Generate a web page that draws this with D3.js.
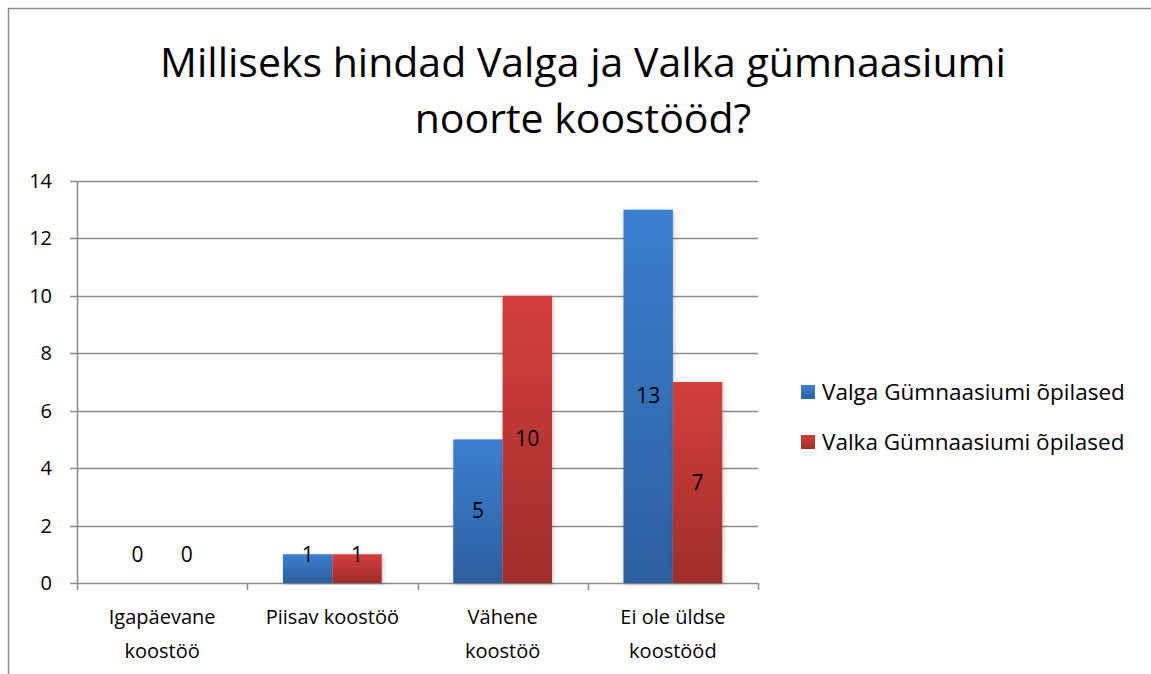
<!DOCTYPE html>
<html>
<head>
<meta charset="utf-8">
<script src="https://cdn.jsdelivr.net/npm/d3@7"></script>
<style>
  body { margin: 0; background: #fff; }
  text { font-family: "Open Sans", Lato, sans-serif; fill: #000; }
</style>
</head>
<body>
<div id="chart"></div>
<script>
var categories = [["Igapäevane", "koostöö"], ["Piisav koostöö"], ["Vähene", "koostöö"], ["Ei ole üldse", "koostööd"]];
var seriesNames = ["Valga Gümnaasiumi õpilased", "Valka Gümnaasiumi õpilased"];
var valga = [0, 1, 5, 13];
var valka = [0, 1, 10, 7];
var yTicks = [0, 2, 4, 6, 8, 10, 12, 14];
var titleLines = ["Milliseks hindad Valga ja Valka gümnaasiumi", "noorte koostööd?"];

var width = 1151, height = 674;
var plot = {left: 77, right: 758, top: 181, bottom: 583};
var fontSize = 20;

var svg = d3.select('#chart').append('svg')
    .attr('width', width)
    .attr('height', height);

var defs = svg.append('defs');
var grads = [["blueGrad", "#3b7fd0", "#2d5f9f"], ["redGrad", "#d23f3c", "#9f2d2b"]];
grads.forEach(function (g) {
    var lg = defs.append('linearGradient').attr('id', g[0])
        .attr('x1', 0).attr('y1', 0).attr('x2', 0).attr('y2', 1);
    lg.append('stop').attr('offset', '0%').attr('stop-color', g[1]);
    lg.append('stop').attr('offset', '100%').attr('stop-color', g[2]);
});
var filter = defs.append('filter').attr('id', 'shadow')
    .attr('x', '-20%').attr('y', '-5%').attr('width', '140%').attr('height', '110%');
filter.append('feDropShadow').attr('dx', 1).attr('dy', 1).attr('stdDeviation', 2)
    .attr('flood-color', '#000').attr('flood-opacity', 0.25);

// frame
svg.append('path')
    .attr('d', 'M8.5,674 V8.5 H1151')
    .attr('fill', 'none')
    .attr('stroke', '#8c8c8c')
    .attr('stroke-width', 1.5);

// title
svg.append('g').selectAll('text')
    .data(titleLines)
    .enter().append('text')
    .attr('x', 583)
    .attr('y', function (d, i) { return 77 + i * 56; })
    .attr('text-anchor', 'middle')
    .attr('font-size', 41)
    .text(function (d) { return d; });

var x0 = d3.scaleBand()
    .domain(d3.range(categories.length))
    .range([plot.left, plot.right]);

var x1 = d3.scaleBand()
    .domain([0, 1])
    .range([x0.bandwidth() * 0.21, x0.bandwidth() * 0.79]);

var y = d3.scaleLinear()
    .domain([0, 14])
    .range([plot.bottom, plot.top]);

// gridlines
svg.append('g').selectAll('line')
    .data(yTicks)
    .enter().append('line')
    .attr('x1', plot.left - 7)
    .attr('x2', plot.right)
    .attr('y1', function (d) { return Math.round(y(d)) + 0.5; })
    .attr('y2', function (d) { return Math.round(y(d)) + 0.5; })
    .attr('stroke', '#8c8c8c')
    .attr('stroke-width', 1.5);

// y axis line
svg.append('line')
    .attr('x1', plot.left + 0.5).attr('x2', plot.left + 0.5)
    .attr('y1', plot.top).attr('y2', plot.bottom)
    .attr('stroke', '#8c8c8c').attr('stroke-width', 1.5);

// x category ticks
svg.append('g').selectAll('line')
    .data(d3.range(categories.length + 1))
    .enter().append('line')
    .attr('x1', function (i) { return Math.round(plot.left + i * x0.bandwidth()) + 0.5; })
    .attr('x2', function (i) { return Math.round(plot.left + i * x0.bandwidth()) + 0.5; })
    .attr('y1', plot.bottom)
    .attr('y2', plot.bottom + 7)
    .attr('stroke', '#8c8c8c').attr('stroke-width', 1.5);

// y tick labels
svg.append('g').selectAll('text')
    .data(yTicks)
    .enter().append('text')
    .attr('x', 52)
    .attr('y', function (d) { return y(d) + 7; })
    .attr('text-anchor', 'end')
    .attr('font-size', fontSize)
    .text(function (d) { return d; });

// x labels
var xl = svg.append('g').selectAll('text')
    .data(categories)
    .enter().append('text')
    .attr('text-anchor', 'middle')
    .attr('font-size', fontSize)
    .attr('x', function (d, i) { return x0(i) + x0.bandwidth() / 2; })
    .attr('y', 624);
xl.selectAll('tspan')
    .data(function (d) { return d; })
    .enter().append('tspan')
    .attr('x', function () { var p = this.parentNode; return p.getAttribute('x'); })
    .attr('dy', function (d, i) { return i === 0 ? 0 : 34; })
    .text(function (d) { return d; });

// bars
var series = [valga, valka];
var fills = ['url(#blueGrad)', 'url(#redGrad)'];
series.forEach(function (vals, s) {
    var g = svg.append('g');
    g.selectAll('rect')
        .data(vals)
        .enter().append('rect')
        .attr('x', function (d, i) { return x0(i) + x1(s); })
        .attr('width', x1.bandwidth())
        .attr('y', function (d) { return y(d); })
        .attr('height', function (d) { return y(0) - y(d); })
        .attr('fill', fills[s])
        .attr('filter', 'url(#shadow)')
        .style('display', function (d) { return d === 0 ? 'none' : null; });
});
series.forEach(function (vals, s) {
    svg.append('g').selectAll('text')
        .data(vals)
        .enter().append('text')
        .attr('x', function (d, i) { return x0(i) + x1(s) + x1.bandwidth() / 2; })
        .attr('y', function (d) { return Math.min((y(d) + y(0)) / 2, y(0) - 28) + 7; })
        .attr('text-anchor', 'middle')
        .attr('font-size', fontSize + 1)
        .text(function (d) { return d; });
});

// legend
var legend = svg.append('g').selectAll('g')
    .data(seriesNames)
    .enter().append('g')
    .attr('transform', function (d, i) { return 'translate(801,' + (392 + i * 50) + ')'; });
legend.append('rect')
    .attr('x', 0).attr('y', -7)
    .attr('width', 14).attr('height', 14)
    .attr('fill', function (d, i) { return fills[i]; });
legend.append('text')
    .attr('x', 21)
    .attr('y', 8)
    .attr('font-size', 22.5)
    .text(function (d) { return d; });
</script>
</body>
</html>
